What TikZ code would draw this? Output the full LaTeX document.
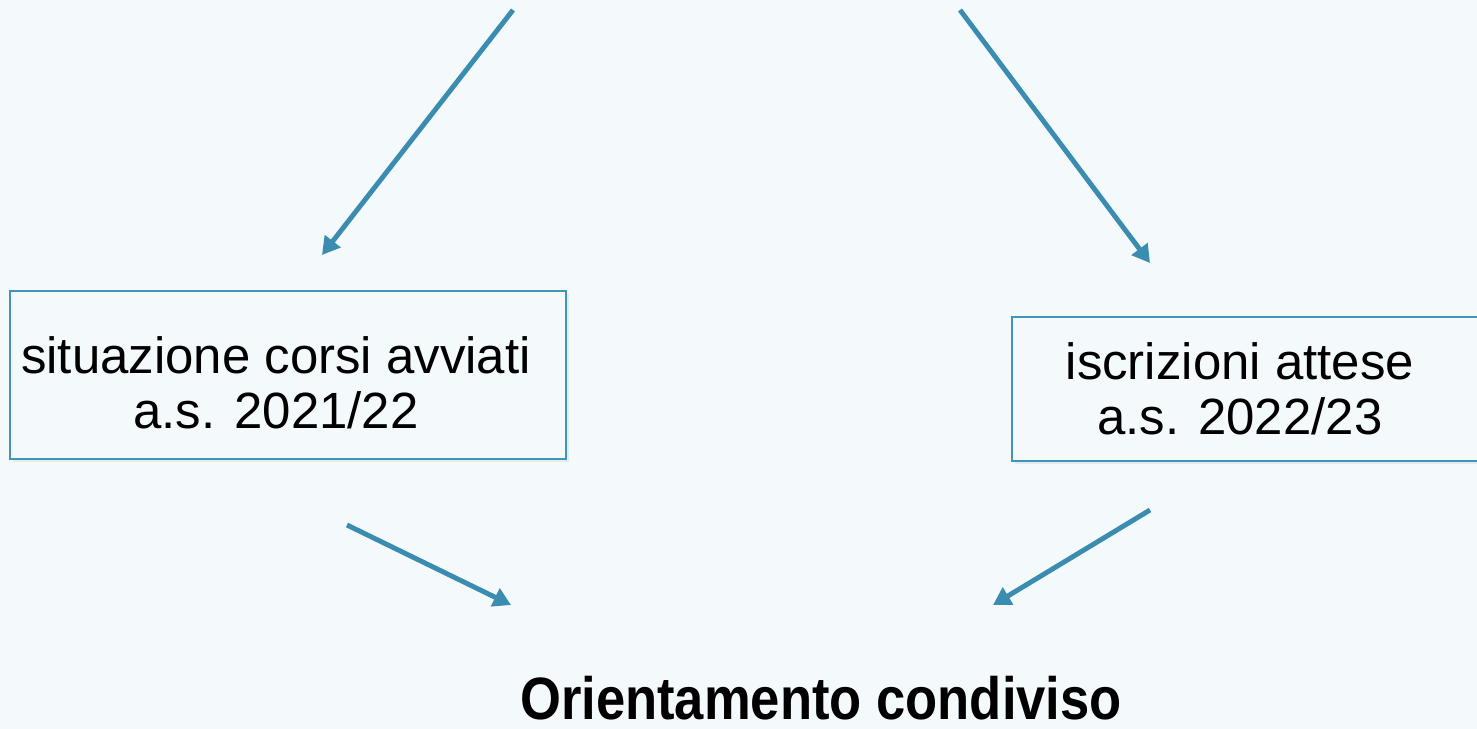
\documentclass[tikz,border=0pt]{standalone}
\usepackage{fontspec}
\setmainfont{Liberation Sans}
\newfontfamily\titlefont{Liberation Sans}[FakeStretch=0.88]
\usetikzlibrary{arrows.meta,shadows}
\definecolor{freccia}{HTML}{3A8CB0}
\definecolor{bordo}{HTML}{4096B8}
\definecolor{sfondo}{HTML}{F4F9FB}
\tikzset{
	casella/.style={draw=bordo, line width=1pt, fill=sfondo, align=center, inner sep=0pt,
		font=\fontsize{29}{31.3}\selectfont,
		drop shadow={opacity=0.12, shadow xshift=1.5pt, shadow yshift=-1.5pt}},
	freccia/.style={draw=freccia, line width=2.8pt, -{Triangle[length=10pt,width=11pt]}}
}
\def\pad#1{\hspace*{#1}}% spazio a destra del testo

\begin{document}
\begin{tikzpicture}[x=0.02cm, y=-0.02cm]
\fill[sfondo] (0,0) rectangle (1477,729);
\useasboundingbox (0,0) rectangle (1477,729);

\node[casella, minimum width=11.12cm, minimum height=3.36cm] (corsi) at (288,375)
	{\rule{0pt}{30pt}situazione corsi avviati\pad{.48cm}\\a.s. 2021/22\pad{.48cm}};
\node[casella, anchor=west, minimum width=10cm, minimum height=2.88cm] (iscrizioni) at (1011,389)
	{iscrizioni attese\pad{.88cm}\\a.s. 2022/23\pad{.88cm}};
\node[anchor=base, font=\titlefont\bfseries\fontsize{34}{40}\selectfont] (orientamento) at (821,719)
	{Orientamento condiviso};

\coordinate (s1) at (513,10);   \coordinate (e1) at (322,255);
\coordinate (s2) at (960,10);   \coordinate (e2) at (1150,263);
\coordinate (s3) at (347,525);  \coordinate (e3) at (511,605);
\coordinate (s4) at (1150,510); \coordinate (e4) at (993,605);

\foreach \i in {1,...,4}
	\draw[freccia] (s\i) -- (e\i);
\end{tikzpicture}
\end{document}
